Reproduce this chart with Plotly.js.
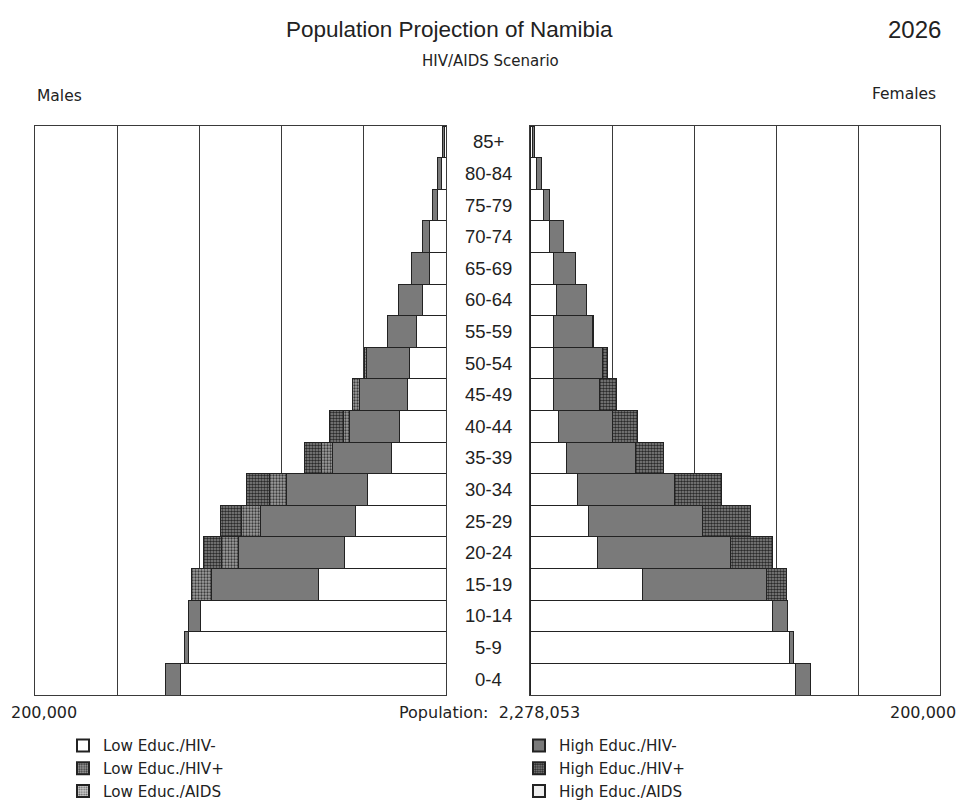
<!DOCTYPE html>
<html>
<head>
<meta charset="utf-8">
<script src="https://cdn.plot.ly/plotly-3.0.1.min.js"></script>
<style>html,body{margin:0;padding:0;background:#fff;}#chart{width:967px;height:803px;}</style>
</head>
<body>
<div id="chart"></div>
<script>
// Age groups (bottom to top)
const ageGroups = ["0-4","5-9","10-14","15-19","20-24","25-29","30-34","35-39","40-44","45-49","50-54","55-59","60-64","65-69","70-74","75-79","80-84","85+"];

// Series names (stack order from centre outwards)
const seriesNames = ["Low Educ./HIV-","High Educ./HIV-","Low Educ./HIV+","High Educ./HIV+","Low Educ./AIDS","High Educ./AIDS"];
const legendOf    = ["legend","legend2","legend","legend2","legend","legend2"];
const legendRank  = [1,1,2,2,3,3];

// Males (persons), same order as ageGroups
const maleLowNeg  = [129300,125400,119500,62000,49300,43900,38000,26300,22400,18500,18000,14600,11200,7800,7800,3900,2400,500];
const maleHighNeg = [7300,2000,5900,52200,51700,46300,39500,28800,24400,23400,20500,14100,11700,8800,3400,2900,1500,1000];
const maleLowPos  = [0,0,0,9800,8300,9300,8300,5400,2900,3400,1000,0,0,0,0,0,0,0];
const maleHighPos = [0,0,0,0,8800,10200,11200,8300,6800,0,0,0,0,0,0,0,0,0];
const maleLowAids = [0,0,0,0,0,0,0,0,0,0,0,0,0,0,0,0,0,0];
const maleHighAids= [0,0,0,0,0,0,0,0,0,0,0,0,0,0,0,0,0,0];

// Females (persons)
const femLowNeg  = [129300,126800,118500,55100,32700,28300,23400,17600,14100,11700,11700,11700,12700,11700,9300,6800,3400,1000];
const femHighNeg = [7300,1500,7300,60500,64900,55600,47300,34100,26300,22000,23900,19000,15100,10700,6800,2900,2000,1000];
const femLowPos  = [0,0,0,0,0,0,0,0,0,0,0,0,0,0,0,0,0,0];
const femHighPos = [0,0,0,9300,20500,23900,22900,13200,12200,8300,2000,500,0,0,0,0,0,0];
const femLowAids = [0,0,0,0,0,0,0,0,0,0,0,0,0,0,0,0,0,0];
const femHighAids= [0,0,0,0,0,0,0,0,0,0,0,0,0,0,0,0,0,0];

const totalPopulation = "2,278,053";
const axisMax = 200000;

const maleSeries = [maleLowNeg, maleHighNeg, maleLowPos, maleHighPos, maleLowAids, maleHighAids];
const femSeries  = [femLowNeg, femHighNeg, femLowPos, femHighPos, femLowAids, femHighAids];

const styles = [
  {color:"#ffffff"},
  {color:"#7a7a7a"},
  {color:"#8a8a8a", pattern:{shape:".", fgcolor:"#3a3a3a", bgcolor:"#a0a0a0", size:3, solidity:0.45}},
  {color:"#555555", pattern:{shape:".", fgcolor:"#2a2a2a", bgcolor:"#8a8a8a", size:3, solidity:0.55}},
  {color:"#b0b0b0", pattern:{shape:".", fgcolor:"#666666", bgcolor:"#d0d0d0", size:3, solidity:0.4}},
  {color:"#eeeeee"}
];

function mk(style){
  const m = {color: style.color, line:{color:"#222", width:1}};
  if (style.pattern) m.pattern = Object.assign({fillmode:"replace"}, style.pattern);
  return m;
}

const traces = [];
seriesNames.forEach((name,i)=>{
  traces.push({type:"bar", orientation:"h", name:name, legendgroup:name, legend:legendOf[i], legendrank:legendRank[i],
    x: maleSeries[i], y: ageGroups, xaxis:"x", yaxis:"y", marker: mk(styles[i]), hoverinfo:"x+y+name"});
});
seriesNames.forEach((name,i)=>{
  traces.push({type:"bar", orientation:"h", name:name, legendgroup:name, legend:legendOf[i], showlegend:false,
    x: femSeries[i], y: ageGroups, xaxis:"x2", yaxis:"y2", marker: mk(styles[i]), hoverinfo:"x+y+name"});
});

const W=967,H=803;
const yTop=126, yBot=695;
const yDom=[1-yBot/H, 1-yTop/H];

const arial = "Liberation Sans, Arial, sans-serif";
const wide = "DejaVu Sans, Verdana, sans-serif";
function ann(text,x,y,size,fam){
  return {text:text, x:x/W, y:1-y/H, xref:"paper", yref:"paper", xanchor:"center", yanchor:"middle", showarrow:false,
    font:{size:size,color:"#222",family:fam}};
}
const annotations = [
  ann("Population Projection of Namibia", 449, 29, 22.5, arial),
  ann("2026", 914, 29, 24, arial),
  ann("HIV/AIDS Scenario", 490, 61, 15, wide),
  ann("Males", 59, 96, 15.5, wide),
  ann("Females", 904, 94, 15.5, wide),
  ann("200,000", 44, 712, 16, wide),
  ann("200,000", 923, 712, 16, wide),
  ann("Population:  " + totalPopulation, 489, 712, 16, wide)
];
ageGroups.forEach(a=>{
  annotations.push({text:a, x:488/W, y:a, xref:"paper", yref:"y", xanchor:"center", yanchor:"middle", showarrow:false,
    font:{size:18.5,color:"#222",family:arial}});
});

const gridCommon = {showgrid:true, gridcolor:"#3a3a3a", gridwidth:1, dtick:40000, tick0:0, showticklabels:false, ticks:"",
  showline:true, linecolor:"#3a3a3a", linewidth:1, mirror:true, zeroline:false, fixedrange:true};
const yCommon = {domain:yDom, type:"category", categoryorder:"array", categoryarray:ageGroups, showticklabels:false, ticks:"",
  showgrid:false, zeroline:false, showline:true, linecolor:"#3a3a3a", linewidth:1, mirror:true, fixedrange:true};

const legendCommon = {orientation:"v", y:1-729/H, xanchor:"left", yanchor:"top", traceorder:"normal", tracegroupgap:0,
  font:{size:15.2,color:"#222",family:wide}, bgcolor:"rgba(0,0,0,0)", itemsizing:"constant"};

const layout = {
  width:W, height:H, margin:{l:0,r:0,t:0,b:0, autoexpand:false},
  paper_bgcolor:"#fff", plot_bgcolor:"#fff",
  barmode:"stack", bargap:0,
  font:{family:arial, color:"#222"},
  xaxis: Object.assign({domain:[35/W,446/W], range:[axisMax,0], anchor:"y"}, gridCommon),
  xaxis2: Object.assign({domain:[530/W,940/W], range:[0,axisMax], anchor:"y2"}, gridCommon),
  yaxis: Object.assign({anchor:"x"}, yCommon),
  yaxis2: Object.assign({anchor:"x2", matches:"y"}, yCommon),
  showlegend:true,
  legend: Object.assign({x:63/W}, legendCommon),
  legend2: Object.assign({x:519/W}, legendCommon),
  annotations: annotations
};

Plotly.newPlot("chart", traces, layout, {displayModeBar:false, staticPlot:true});
</script>
</body>
</html>
